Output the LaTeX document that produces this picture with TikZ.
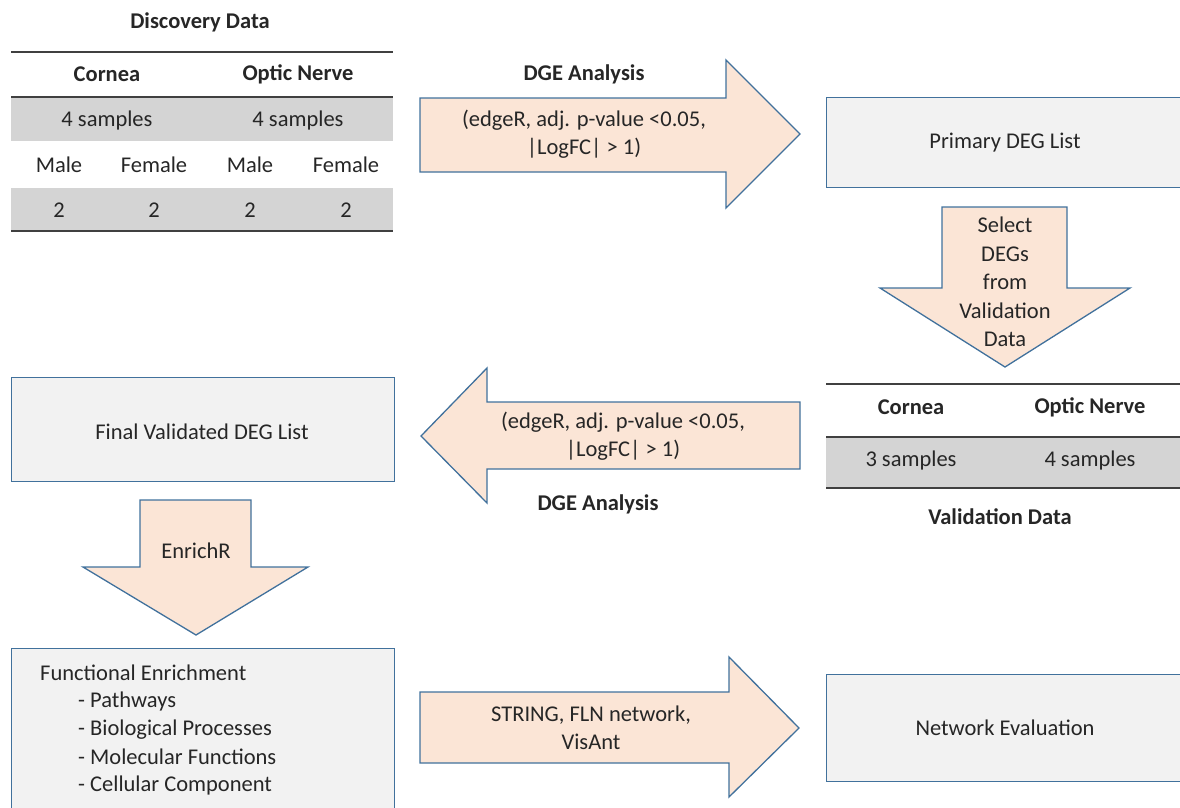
\documentclass[tikz,border=0pt]{standalone}
\usepackage{fontspec}
\setmainfont{Carlito}
\definecolor{txt}{HTML}{262626}
\definecolor{rowgray}{HTML}{D4D4D4}
\definecolor{rulegray}{HTML}{404040}
\definecolor{boxfill}{HTML}{F2F2F2}
\definecolor{boxline}{HTML}{41719C}
\definecolor{arrfill}{HTML}{FBE5D6}
\tikzset{
  every node/.style={text=txt, font=\fontsize{22.5}{28.5}\selectfont, inner sep=0pt},
  hdr/.style={font=\fontsize{22.5}{28.5}\selectfont\bfseries},
  tbrule/.style={draw=rulegray, line width=2.5pt},
  grayrow/.style={fill=rowgray},
  procbox/.style={draw=boxline, fill=boxfill, line width=1.3pt, rectangle},
  bigarrow/.style={draw=boxline, fill=arrfill, line width=1.3pt, line join=miter},
  alabel/.style={align=center}
}
\begin{document}
\begin{tikzpicture}[x=1pt,y=-1pt]
\useasboundingbox (0,0) rectangle (1180,807);
% ---------- Discovery table ----------
\node[hdr] (dtitle) at (200,22) {Discovery Data};
\fill[grayrow] (11,97) rectangle (393,141);
\fill[grayrow] (11,188) rectangle (393,231);
\draw[tbrule] (11,52) -- (393,52);
\draw[tbrule] (11,97) -- (393,97);
\draw[tbrule] (11,231) -- (393,231);
\node[hdr] (dcor) at (107,74) {Cornea};
\node[hdr] (dopt) at (298,74) {Optic Nerve};
\node (ds1) at (107,120) {4 samples};
\node (ds2) at (298,120) {4 samples};
\node (dm1) at (59,165) {Male};
\node (df1) at (154,165) {Female};
\node (dm2) at (250,165) {Male};
\node (df2) at (346,165) {Female};
\node (dn1) at (59,210) {2};
\node (dn2) at (154,210) {2};
\node (dn3) at (250,210) {2};
\node (dn4) at (346,210) {2};
% ---------- Top arrow ----------
\draw[bigarrow] (420,98) -- (726,98) -- (726,60) -- (800,134) -- (726,208) -- (726,172) -- (420,172) -- cycle;
\node[hdr] (dge1) at (584,74) {DGE Analysis};
\node[alabel] (a1) at (584,134) {(edgeR, adj. p-value <0.05,\\|LogFC| > 1)};
% ---------- Primary DEG list ----------
\node[procbox, minimum width=370pt, minimum height=90pt, anchor=north west] (prim) at (826,97) {};
\node (primt) at (1005,143) {Primary DEG List};
% ---------- Down arrow select ----------
\draw[bigarrow] (942,207) -- (1067,207) -- (1067,288) -- (1130,288) -- (1005,367) -- (880,288) -- (942,288) -- cycle;
\node[alabel] (sel) at (1005,282) {Select\\DEGs\\from\\Validation\\Data};
% ---------- Validation table ----------
\fill[grayrow] (826,437) rectangle (1180,487);
\draw[tbrule] (826,384) -- (1180,384);
\draw[tbrule] (826,437) -- (1180,437);
\draw[tbrule] (826,488) -- (1180,488);
\node[hdr] (vcor) at (911,407) {Cornea};
\node[hdr] (vopt) at (1090,407) {Optic Nerve};
\node (vs1) at (911,460) {3 samples};
\node (vs2) at (1090,460) {4 samples};
\node[hdr] (vtitle) at (1000,517) {Validation Data};
% ---------- Final validated ----------
\node[procbox, minimum width=383pt, minimum height=104pt, anchor=north west] (final) at (11,377) {};
\node (finalt) at (202,432) {Final Validated DEG List};
% ---------- Left arrow ----------
\draw[bigarrow] (800,402) -- (487,402) -- (487,368) -- (421,436) -- (487,503) -- (487,469) -- (800,469) -- cycle;
\node[alabel] (a2) at (623,436) {(edgeR, adj. p-value <0.05,\\|LogFC| > 1)};
\node[hdr] (dge2) at (598,504) {DGE Analysis};
% ---------- EnrichR arrow ----------
\draw[bigarrow] (140,500) -- (251,500) -- (251,567) -- (308,567) -- (196,635) -- (83,567) -- (140,567) -- cycle;
\node (enr) at (196,551) {EnrichR};
% ---------- Functional enrichment ----------
\node[procbox, minimum width=383pt, minimum height=180pt, anchor=north west] (func) at (11,648) {};
\node[anchor=west] (f0) at (40,673) {Functional Enrichment};
\node[anchor=west] (f1) at (78,701) {- Pathways};
\node[anchor=west] (f2) at (78,730) {- Biological Processes};
\node[anchor=west] (f3) at (78,757) {- Molecular Functions};
\node[anchor=west] (f4) at (78,785) {- Cellular Component};
% ---------- Bottom arrow ----------
\draw[bigarrow] (420,692) -- (729,692) -- (729,657) -- (799,728) -- (729,797) -- (729,763) -- (420,763) -- cycle;
\node[alabel] (a3) at (591,728) {STRING, FLN network,\\VisAnt};
% ---------- Network evaluation ----------
\node[procbox, minimum width=370pt, minimum height=107pt, anchor=north west] (net) at (826,674) {};
\node (nett) at (1005,728) {Network Evaluation};
\end{tikzpicture}
\end{document}
